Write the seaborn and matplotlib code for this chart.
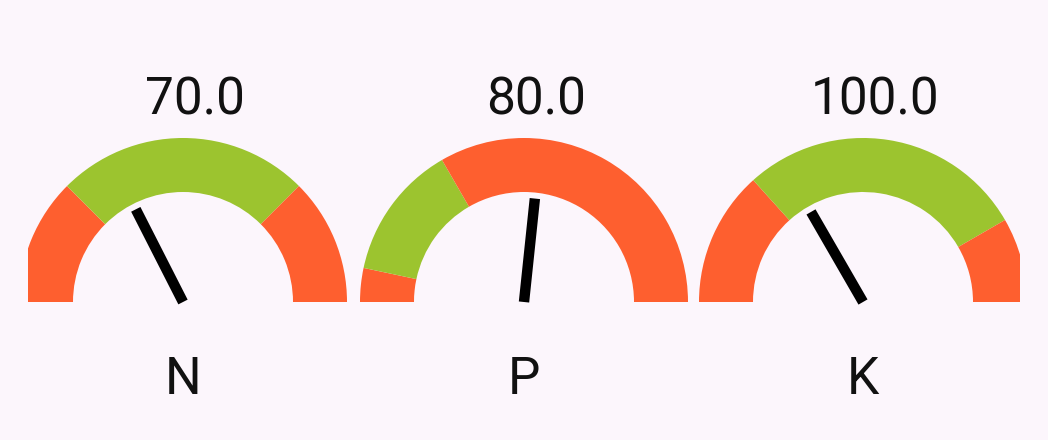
import matplotlib
matplotlib.use("Agg")
import matplotlib.pyplot as plt
from matplotlib.patches import Wedge
import numpy as np
import seaborn as sns

# gauge data
labels = ["N", "P", "K"]
values = [70.0, 80.0, 100.0]
scale_min = [0, 0, 0]
scale_max = [200, 150, 300]
green_lo = [50, 10, 80]
green_hi = [150, 50, 250]

RED = "#FE5F2F"
GREEN = "#9CC42F"
BG = "#FCF6FC"

sns.set_theme(style="white")
plt.rcParams["font.family"] = ["Roboto", "DejaVu Sans"]

W, H = 1048, 440
fig = plt.figure(figsize=(W / 100, H / 100), dpi=100, facecolor=BG)

# panel edges and gauge centres in pixels
edges = [(28, 353), (353, 694), (694, 1020)]
centres = [183, 524, 863]
base_y = 302          # pixel row of the gauge baseline (from top)
r_out, r_in = 164, 110
needle_len = 104


def to_angle(v, lo, hi):
    return 180.0 - 180.0 * (v - lo) / (hi - lo)


for i, lab in enumerate(labels):
    L, R = edges[i]
    cx = centres[i]
    ax = fig.add_axes([L / W, 0, (R - L) / W, 1])
    ax.set_xlim(L - cx, R - cx)
    ax.set_ylim(base_y - H, base_y)
    ax.set_facecolor(BG)
    ax.axis("off")

    lo, hi = scale_min[i], scale_max[i]
    a_glo = to_angle(green_lo[i], lo, hi)
    a_ghi = to_angle(green_hi[i], lo, hi)
    segs = [(a_glo, 180, RED), (a_ghi, a_glo, GREEN), (0, a_ghi, RED)]
    for t1, t2, col in segs:
        ax.add_patch(Wedge((0, 0), r_out, t1, t2, width=r_out - r_in,
                           facecolor=col, edgecolor="none"))

    ang = np.deg2rad(to_angle(values[i], lo, hi))
    sns.lineplot(x=[0, needle_len * np.cos(ang)], y=[0, needle_len * np.sin(ang)],
                 ax=ax, color="black", linewidth=7.5, solid_capstyle="butt",
                 sort=False, estimator=None)

    ax.text(12, base_y - 100, f"{values[i]:.1f}", ha="center", va="center",
            fontsize=37, color="#111111")
    ax.text(0, base_y - 380, lab, ha="center", va="center",
            fontsize=37, color="#111111")

fig.savefig("out.png", dpi=100, facecolor=BG)
